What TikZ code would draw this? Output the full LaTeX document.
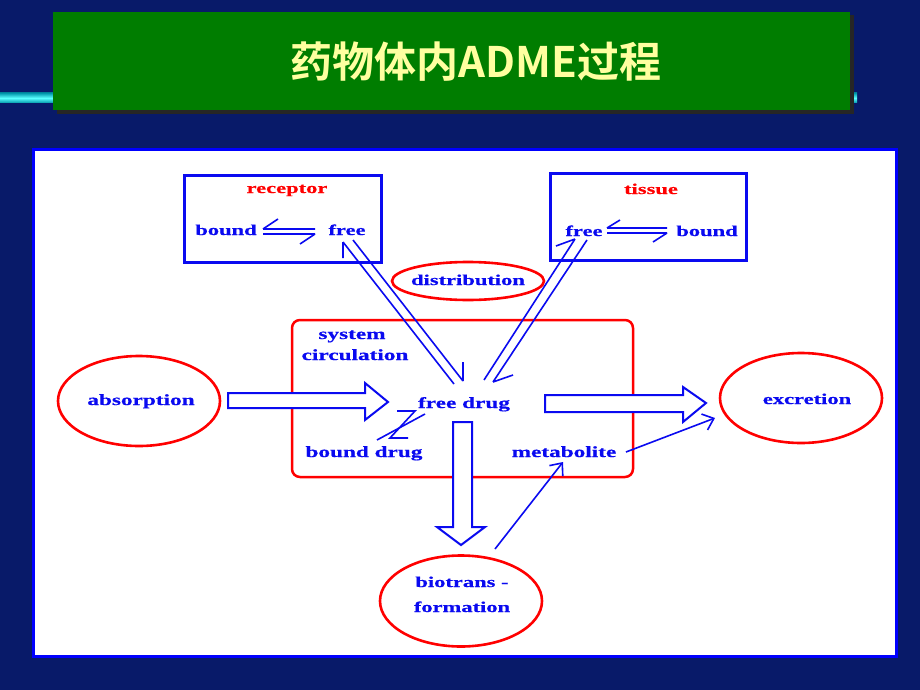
\documentclass[tikz,border=0pt]{standalone}
\usepackage{fontspec}
\setmainfont{Liberation Serif}
\newfontfamily\wide{Liberation Serif}[FakeStretch=1.5,FakeBold=0.6]
\newfontfamily\cjk{Noto Sans CJK SC}[BoldFont={Noto Sans CJK SC Bold}]
\usetikzlibrary{shapes.geometric,arrows.meta}
\definecolor{bg}{RGB}{8,26,105}
\definecolor{ttlgreen}{RGB}{0,125,0}
\definecolor{ttlyellow}{RGB}{255,255,160}
\definecolor{dblue}{RGB}{10,10,240}
\definecolor{cyA}{RGB}{0,150,170}
\definecolor{cyB}{RGB}{90,255,255}
\begin{document}
\begin{tikzpicture}[x=1pt,y=-1pt,
  lbl/.style={font=\wide\bfseries\fontsize{15}{18}\selectfont, text=dblue, inner sep=0pt, anchor=base},
  biglbl/.style={lbl, font=\wide\bfseries\fontsize{15.5}{18}\selectfont},
  rlbl/.style={lbl, text=red},
  frame/.style={draw=dblue, line width=3pt, inner sep=0pt, outer sep=0pt},
  oval/.style={ellipse, draw=red, line width=2.6pt, inner sep=0pt, outer sep=0pt},
  thinln/.style={draw=dblue, line width=1.6pt},
  thinarr/.style={thinln, -{Straight Barb[length=10pt,width=17pt,line width=1.6pt]}},
  block/.style={draw=dblue, fill=white, line width=2pt, line join=miter},
]
\useasboundingbox (0,0) rectangle (920,690);
% background
\fill[bg] (0,0) rectangle (920,690);
\shade[top color=cyA, bottom color=cyA, middle color=cyB] (0,93) rectangle (857,103);
\fill[black!85] (57,15) rectangle (854,114);
\node[fill=ttlgreen, minimum width=797pt, minimum height=98pt, inner sep=0pt, outer sep=0pt] (banner) at (451.5,61) {};
\node[font=\cjk\bfseries\fontsize{42}{46}\selectfont, text=ttlyellow, inner sep=0pt, anchor=base] (title) at (476,78) {药物体内ADME过程};
% white panel
\node[draw=blue, fill=white, line width=3pt, minimum width=863pt, minimum height=507pt, inner sep=0pt, outer sep=0pt] (panel) at (465.25,403) {};
% boxes
\node[frame, minimum width=197pt, minimum height=87pt] (rec) at (282.5,218.5) {};
\node[frame, minimum width=196pt, minimum height=87pt] (tis) at (648,216.5) {};
\node[draw=red, line width=2.5pt, rounded corners=8pt, minimum width=341pt, minimum height=157pt, inner sep=0pt, outer sep=0pt] (circ) at (462.5,398.5) {};
% ellipses
\node[oval, minimum width=152pt, minimum height=38pt] (distE) at (468,281) {};
\node[oval, minimum width=162pt, minimum height=90pt] (absE) at (139,401) {};
\node[oval, minimum width=162pt, minimum height=90pt] (excE) at (801,398) {};
\node[oval, minimum width=162pt, minimum height=91pt] (bioE) at (461,601) {};
% texts
\node[rlbl] (receptor) at (287,193) {receptor};
\node[lbl] (rbound) at (226,235) {bound};
\node[lbl] (rfree) at (347,235) {free};
\node[rlbl] (tissue) at (651,194) {tissue};
\node[lbl] (tfree) at (584,236) {free};
\node[lbl] (tbound) at (707,236) {bound};
\node[lbl] (dist) at (468,285) {distribution};
\node[biglbl] (sys) at (352,339) {system};
\node[biglbl] (circl) at (355,360) {circulation};
\node[biglbl] (abs) at (141,405) {absorption};
\node[biglbl] (fd) at (464,408) {free drug};
\node[lbl] (exc) at (807,404) {excretion};
\node[biglbl] (bd) at (364,457) {bound drug};
\node[biglbl] (met) at (564,457) {metabolite};
\node[lbl] (bio1) at (462,587) {biotrans -};
\node[lbl] (bio2) at (462,612) {formation};
% receptor harpoons
\draw[thinln] (263,229) -- (315,229) (263,229) -- (278,219);
\draw[thinln] (263,234) -- (315,234) (315,234) -- (300,244);
% tissue harpoons
\draw[thinln] (607,228) -- (667,228) (607,228) -- (620,220);
\draw[thinln] (607,233) -- (667,233) (667,233) -- (653,242);
% receptor free <-> free drug
\coordinate (a1) at (343,242); \coordinate (a2) at (454,384);
\coordinate (b1) at (353,240); \coordinate (b2) at (463,381);
\draw[thinln] (a1) -- (a2) (a1) -- (343,258);
\draw[thinln] (b1) -- (b2) (b2) -- (463,362);
% free drug <-> tissue free
\coordinate (c1) at (484,380); \coordinate (c2) at (575,239);
\coordinate (d1) at (493,382); \coordinate (d2) at (587,240);
\draw[thinln] (c1) -- (c2) (c2) -- (556,246);
\draw[thinln] (d1) -- (d2) (d1) -- (513,375);
% bound drug <-> free drug
\draw[thinln] (397,411) -- (415,411) -- (390,438) -- (408,438);
\draw[thinln] (425,414) -- (377,440);
% block arrows
\draw[block] (228,393) -- (365,393) -- (365,383) -- (388,402) -- (365,420) -- (365,408) -- (228,408) -- cycle;
\draw[block] (545,395) -- (683,395) -- (683,387) -- (706,403) -- (683,422) -- (683,412) -- (545,412) -- cycle;
\draw[block] (453,422) -- (472,422) -- (472,527) -- (485,527) -- (461,545) -- (437,527) -- (453,527) -- cycle;
% thin arrows
\coordinate (m1) at (626,452); \coordinate (m2) at (715,418);
\draw[thinarr] (m1) -- (m2);
\coordinate (t1) at (495,549); \coordinate (t2) at (563,462);
\draw[thinarr] (t1) -- (t2);
\end{tikzpicture}
\end{document}
